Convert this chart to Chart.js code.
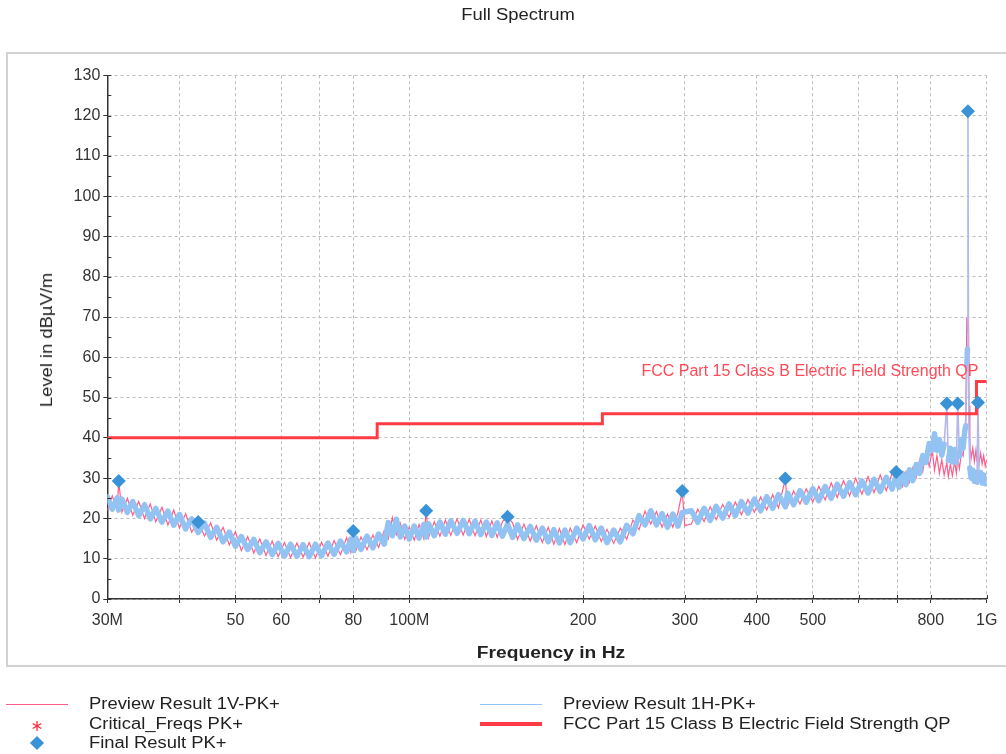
<!DOCTYPE html>
<html>
<head>
<meta charset="utf-8">
<script src="https://cdn.jsdelivr.net/npm/chart.js@4.4.1/dist/chart.umd.min.js"></script>
<style>
html,body{margin:0;padding:0;background:#fff;}
#wrap{position:relative;width:1006px;height:754px;overflow:hidden;font-family:"Liberation Sans",Arial,sans-serif;color:#222;}
#frame{position:absolute;left:6px;top:52px;width:1010px;height:615px;border:2px solid #d2d2d2;box-sizing:border-box;}
#c{position:absolute;left:0;top:0;}
.t{position:absolute;white-space:nowrap;font-size:16px;line-height:18px;}
#title{left:518px;top:15px;transform:translate(-50%,-50%) scaleX(1.15);}
#ytitle{left:47px;top:340px;transform:translate(-50%,-50%) rotate(-90deg) scaleX(1.15);}
#xtitle{left:551px;top:653px;font-weight:bold;transform:translate(-50%,-50%) scaleX(1.2);}
.lg{transform-origin:left center;transform:translateY(-50%) scaleX(1.15);}
.sym{position:absolute;}
</style>
</head>
<body>
<div id="wrap">
  <div id="frame"></div>
  <canvas id="c" width="1006" height="754"></canvas>
  <div class="t" id="title">Full Spectrum</div>
  <div class="t" id="ytitle">Level in dBµV/m</div>
  <div class="t" id="xtitle">Frequency in Hz</div>
  <div id="legend"></div>
</div>
<script>
// ---------------- data (frequencies in MHz, levels in dBµV/m) ----------------
const FREQ_MHZ = [
  30.0,30.6,31.2,31.4,31.8,32.5,33.2,34.0,34.8,35.6,36.4,37.3,38.2,39.1,40.0,41.0,42.0,43.1,44.2,45.3,46.4,47.6,48.8,50.0,
  51.2,52.5,53.8,55.1,56.5,57.9,59.3,60.8,62.3,63.9,65.5,67.1,68.8,70.5,72.3,74.1,76.0,77.9,79.2,80.0,80.8,
  82.5,84.5,86.5,88.5,90.5,92.0,93.5,95.0,96.5,98.2,100.0,
  102,104,106,107,108,110.5,113,115.5,118,121,124,127,130,133,136,139,142,145,148,151,154,158,162,166,170,174,178,182,186,190,195,200,
  205,210,215,220,226,232,238,244,250,256,262,268,274,280,286,292,297,300,
  308,316,324,332,340,349,358,367,376,386,396,406,416,426,436,448,452,463,475,487,500,
  512,525,538,551,565,579,593,608,623,638,654,670,686,697,705,
  715,725,735,745,755,765,775,785,795,805,812,820,828,836,844,853,858,865,872,880,886,891,897,904,910,916,920,924,926,928,930,932,935,940,946,952,958,962,966,970,976,982,988,994,1000
];
const PREVIEW_1V_PK = [
  22.0,25.6,21.9,29.3,21.6,25.0,20.8,24.2,20.0,23.6,19.2,22.8,18.4,22.1,17.6,21.2,16.6,19.1,15.6,18.9,14.6,17.8,13.4,16.7,
  12.0,15.5,11.4,14.9,10.8,14.4,10.5,14.0,10.3,13.9,10.4,14.0,10.2,14.1,10.6,14.5,11.0,15.2,11.6,16.9,11.9,
  15.4,12.2,15.9,12.8,17.0,15.0,20.2,16.0,18.8,14.8,17.9,
  14.6,18.5,15.0,21.9,15.2,19.2,15.6,19.6,15.8,19.9,15.9,19.8,15.7,19.6,15.5,19.4,15.3,19.2,20.4,18.9,14.8,18.6,14.4,18.2,14.0,17.8,13.6,17.5,13.5,17.6,14.0,18.4,
  14.9,18.1,14.3,17.3,13.8,17.6,14.8,19.6,17.2,21.8,18.6,21.7,17.8,21.1,17.8,21.4,26.8,18.2,
  18.6,22.3,19.2,22.9,19.7,23.5,20.3,24.1,20.9,24.7,21.5,25.3,22.1,25.9,22.6,29.8,23.0,26.8,23.6,27.4,24.1,
  28.0,24.6,28.8,25.2,29.4,25.6,30.0,26.0,30.4,26.4,30.8,26.9,31.2,31.5,30.9,
  28.0,31.6,29.0,32.6,30.2,34.5,31.6,36.5,33.0,36.8,32.0,35.6,31.2,34.6,30.8,33.8,30.4,33.4,30.6,34.2,31.2,35.0,32.4,36.4,35.5,40.0,46.0,70.0,66.0,69.5,68.0,48.0,38.5,35.0,37.5,34.2,37.0,34.0,36.8,33.8,36.2,33.5,35.6,33.0,34.5
];
const PREVIEW_1H_PK = [
  25.4,22.3,25.1,22.1,24.8,21.5,24.2,20.7,23.4,19.9,22.5,19.1,21.8,18.3,21.0,17.4,19.9,16.5,18.8,15.3,17.8,14.2,16.6,13.1,
  15.5,12.3,14.8,11.5,14.2,11.0,13.8,10.7,13.6,10.6,13.5,10.5,13.6,10.7,13.9,11.1,14.4,11.7,14.9,12.0,15.1,
  12.3,15.6,12.7,16.1,13.6,19.0,15.7,19.8,15.4,18.1,14.9,
  18.1,15.1,18.5,15.4,18.7,15.7,19.1,16.1,19.4,16.3,19.5,16.2,19.3,16.0,19.1,15.8,18.9,15.6,18.6,15.3,18.4,15.0,18.0,14.6,17.6,14.2,17.2,13.9,17.1,14.0,17.6,14.9,
  18.2,14.7,17.6,14.0,17.1,14.2,18.3,16.2,20.7,18.4,21.9,18.4,21.2,17.8,21.1,18.1,21.5,21.6,
  21.9,19.0,22.5,19.5,23.0,20.1,23.6,20.7,24.2,21.3,24.8,21.9,25.4,22.5,25.9,22.9,26.3,23.4,26.9,24.0,27.4,
  24.4,27.9,25.0,28.5,25.5,28.9,25.9,29.3,26.3,29.7,26.7,30.2,27.3,30.7,27.7,
  31.2,28.4,32.1,29.4,33.4,31.2,35.6,33.9,38.6,36.9,41.0,36.9,39.6,35.7,38.4,48.5,34.4,37.4,34.0,37.1,33.9,48.5,35.4,39.6,37.4,41.6,43.0,58.0,62.0,121.0,56.0,40.0,32.5,30.0,32.0,29.2,31.4,29.0,48.8,29.6,31.4,28.8,30.8,28.6,29.8
];
const FINAL_FREQ  = [31.4, 43.1, 80.0, 107.0, 148.0, 297.0, 448.0, 697.0, 853.0, 891.0, 928.0, 966.0];
const FINAL_LEVEL = [29.3, 19.1, 16.9, 21.9, 20.4, 26.8, 29.9, 31.5, 48.5, 48.5, 121.1, 48.8];
const CRIT_FREQ   = [31.4, 43.1, 80.0, 107.0, 148.0, 297.0, 448.0, 697.0, 853.0, 891.0, 928.0, 966.0];
const CRIT_LEVEL  = [29.3, 19.1, 16.9, 21.9, 20.4, 26.8, 29.9, 31.5, 48.5, 48.5, 121.1, 48.8];
const LIMIT_FREQ  = [30, 88, 216, 960, 1000];
const LIMIT_LEVEL = [40, 43.5, 46, 54, 54];
const X_TICKS       = [30, 40, 50, 60, 70, 80, 100, 200, 300, 400, 500, 600, 700, 800, 1000];
const X_TICK_LABELS = ['30M', '', '50', '60', '', '80', '100M', '200', '300', '400', '500', '', '', '800', '1G'];
const Y_MIN = 0, Y_MAX = 130, Y_STEP = 5, Y_LABEL_STEP = 10;
const LIMIT_LABEL = 'FCC Part 15 Class B Electric Field Strength QP';
const LIMIT_LABEL_LEVEL = 56.5;
const SERIES_NAMES = ['Preview Result 1V-PK+', 'Preview Result 1H-PK+', 'FCC Part 15 Class B Electric Field Strength QP', 'Critical_Freqs PK+', 'Final  Result PK+'];

// ---------------- styles ----------------
const PINK = '#ff5c8a', BLUE = '#93c3f3', LAVENDER = '#b3b8ec', RED = '#ff3c46', STAR = '#ff2a3a', DIAMOND = '#3a93d6';
const FONT = '"Liberation Sans", Arial, sans-serif';
const JUMP = 7; // a segment that rises/falls more than this is drawn as a thin spike line

const pts = (xs, ys) => xs.map((x, i) => ({x: x, y: ys[i]}));
const isJump = c => Math.abs(c.p1.parsed.y - c.p0.parsed.y) > JUMP;

const extras = {
  id: 'extras',
  afterDraw(chart) {
    const {ctx, chartArea: a, scales: {x, y}} = chart;
    ctx.save();
    ctx.strokeStyle = '#333';
    ctx.lineWidth = 1;
    ctx.beginPath();
    for (let v = Y_MIN; v <= Y_MAX; v += Y_STEP) {
      const py = Math.round(y.getPixelForValue(v)) + 0.5;
      ctx.moveTo(a.left, py); ctx.lineTo(a.left + 4, py);
    }
    X_TICKS.forEach(v => {
      const px = Math.round(x.getPixelForValue(v)) + 0.5;
      ctx.moveTo(px, a.bottom); ctx.lineTo(px, a.bottom - 4);
    });
    ctx.stroke();
    ctx.fillStyle = '#ff4a58';
    ctx.font = '16px ' + FONT;
    ctx.textAlign = 'right';
    ctx.textBaseline = 'middle';
    ctx.fillText(LIMIT_LABEL, x.getPixelForValue(LIMIT_FREQ[3]) + 2, y.getPixelForValue(LIMIT_LABEL_LEVEL));
    ctx.restore();
  }
};

const tickFont = {family: FONT, size: 16};

new Chart(document.getElementById('c'), {
  type: 'line',
  data: {
    datasets: [
      {label: SERIES_NAMES[0], data: pts(FREQ_MHZ, PREVIEW_1V_PK), borderColor: PINK, borderWidth: 1.2, pointRadius: 0, tension: 0, order: 5},
      {label: SERIES_NAMES[1], data: pts(FREQ_MHZ, PREVIEW_1H_PK), borderColor: BLUE, borderWidth: 5.5, pointRadius: 0, tension: 0,
       borderJoinStyle: 'round', borderCapStyle: 'round',
       segment: {borderWidth: c => (isJump(c) ? 1.6 : 5.5), borderColor: c => (isJump(c) ? LAVENDER : BLUE)}, order: 4},
      {label: SERIES_NAMES[2], data: pts(LIMIT_FREQ, LIMIT_LEVEL), stepped: 'before', borderColor: RED, borderWidth: 3, pointRadius: 0, order: 3},
      {label: SERIES_NAMES[3], data: pts(CRIT_FREQ, CRIT_LEVEL), showLine: false, pointStyle: 'star', pointRadius: 4, pointBorderWidth: 1, borderColor: STAR, backgroundColor: STAR, order: 2},
      {label: SERIES_NAMES[4], data: pts(FINAL_FREQ, FINAL_LEVEL), showLine: false, pointStyle: 'rectRot', pointRadius: 7, pointBorderWidth: 0, borderColor: DIAMOND, backgroundColor: DIAMOND, order: 1}
    ]
  },
  options: {
    responsive: false,
    animation: false,
    parsing: false,
    layout: {padding: {left: 7.3, right: 19.3, top: 75.3, bottom: 115}},
    plugins: {legend: {display: false}, tooltip: {enabled: false}},
    scales: {
      x: {
        type: 'logarithmic', min: 30, max: 1000,
        afterBuildTicks: s => { s.ticks = X_TICKS.map(v => ({value: v})); },
        afterFit: s => { s.height = 40; },
        ticks: {autoSkip: false, maxRotation: 0, minRotation: 0, color: '#333', font: tickFont, padding: 8,
                callback: (v, i) => X_TICK_LABELS[i]},
        grid: {color: '#bdbdbd', lineWidth: 1, tickColor: '#333', tickLength: 4, tickBorderDash: []},
        border: {display: true, color: '#333', width: 1.5, dash: [3, 3]}
      },
      y: {
        min: Y_MIN, max: Y_MAX,
        afterFit: s => { s.width = 100; },
        ticks: {stepSize: Y_STEP, color: '#333', font: tickFont, padding: 3,
                callback: v => (v % Y_LABEL_STEP === 0 ? String(v) : '')},
        grid: {color: '#bdbdbd', lineWidth: 1, tickColor: '#333', tickLength: 4, tickBorderDash: []},
        border: {display: true, color: '#333', width: 1.5, dash: [3, 3]}
      }
    }
  },
  plugins: [extras]
});

// ---------------- legend (HTML) ----------------
const legendItems = [
  {name: SERIES_NAMES[0], col: 0, row: 0, sym: 'thin', color: PINK},
  {name: SERIES_NAMES[3], col: 0, row: 1, sym: 'star', color: STAR},
  {name: SERIES_NAMES[4], col: 0, row: 2, sym: 'diamond', color: DIAMOND},
  {name: SERIES_NAMES[1], col: 1, row: 0, sym: 'thin', color: BLUE},
  {name: SERIES_NAMES[2], col: 1, row: 1, sym: 'thick', color: RED}
];
const COL_SYM = [[6, 68], [480, 542]], COL_TEXT = [89, 563], ROW_Y = [704, 724, 743];
const lg = document.getElementById('legend');
legendItems.forEach(it => {
  const [x0, x1] = COL_SYM[it.col], yc = ROW_Y[it.row], xm = (x0 + x1) / 2;
  let s = document.createElement('div');
  s.className = 'sym';
  if (it.sym === 'thin' || it.sym === 'thick') {
    const h = it.sym === 'thin' ? 1 : 4;
    Object.assign(s.style, {left: x0 + 'px', top: (yc - h / 2) + 'px', width: (x1 - x0) + 'px', height: h + 'px', background: it.color});
  } else if (it.sym === 'star') {
    s.innerHTML = '<svg width="12" height="12" viewBox="-6 -6 12 12"><g stroke="' + it.color + '" stroke-width="1.3"><line x1="0" y1="-5" x2="0" y2="5"/><line x1="-4.3" y1="-2.5" x2="4.3" y2="2.5"/><line x1="-4.3" y1="2.5" x2="4.3" y2="-2.5"/></g></svg>';
    Object.assign(s.style, {left: (xm - 6) + 'px', top: (yc - 6) + 'px', width: '12px', height: '12px'});
  } else {
    Object.assign(s.style, {left: (xm - 5) + 'px', top: (yc - 5) + 'px', width: '10px', height: '10px', background: it.color, transform: 'rotate(45deg)'});
  }
  lg.appendChild(s);
  const t = document.createElement('div');
  t.className = 't lg';
  t.textContent = it.name;
  Object.assign(t.style, {left: COL_TEXT[it.col] + 'px', top: yc + 'px'});
  lg.appendChild(t);
});
</script>
</body>
</html>
